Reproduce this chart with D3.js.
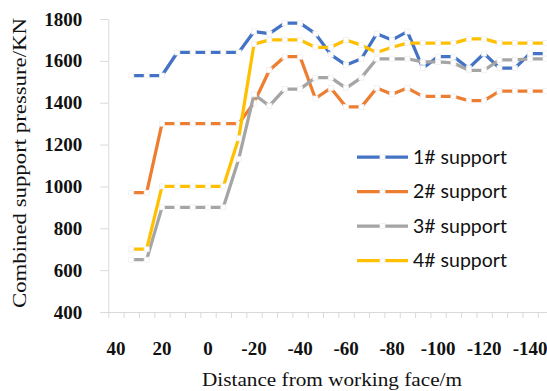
<!DOCTYPE html>
<html>
<head>
<meta charset="utf-8">
<script src="https://cdn.jsdelivr.net/npm/d3@7"></script>
<style>
  html, body { margin: 0; padding: 0; background: #fff; }
  svg { display: block; }
</style>
</head>
<body>
<svg id="chart" width="547" height="391"></svg>
<script>
// distance from working face (m), one entry per category
const categories = [40, 33, 27, 20, 13, 7, 0, -7, -13, -20, -27, -33, -40, -47, -53,
  -60, -67, -73, -80, -87, -93, -100, -107, -113, -120, -127, -133, -140, -147];

// combined support pressure (KN)
const support1 = [null, 1530, 1530, 1530, 1640, 1640, 1640, 1640, 1640, 1740, 1730, 1780, 1780, 1730,
  1630, 1580, 1610, 1730, 1700, 1740, 1565, 1620, 1620, 1565, 1635, 1565, 1565, 1635, 1635];
const support2 = [null, 970, 970, 1300, 1300, 1300, 1300, 1300, 1300, 1400, 1555, 1620, 1620, 1420,
  1470, 1380, 1380, 1470, 1440, 1470, 1430, 1430, 1430, 1410, 1410, 1455, 1455, 1455, 1455];
const support3 = [null, 650, 650, 900, 900, 900, 900, 900, 1130, 1440, 1385, 1465, 1465, 1520,
  1520, 1470, 1520, 1610, 1610, 1610, 1595, 1595, 1590, 1555, 1555, 1605, 1605, 1610, 1610];
const support4 = [null, 700, 700, 1000, 1000, 1000, 1000, 1000, 1230, 1680, 1700, 1700, 1700, 1665,
  1665, 1700, 1675, 1640, 1665, 1685, 1685, 1685, 1685, 1705, 1705, 1685, 1685, 1685, 1685];

const seriesNames = ["1# support", "2# support", "3# support", "4# support"];
const seriesColors = ["#4472C4", "#ED7D31", "#A5A5A5", "#FFC000"];
const yTicks = [400, 600, 800, 1000, 1200, 1400, 1600, 1800];

const series = [support1, support2, support3, support4].map((values, k) => ({
  name: seriesNames[k],
  color: seriesColors[k],
  values: values.map((v, i) => ({ i, v }))
}));

const svg = d3.select("#chart");
const plotLeft = 108.3, plotTop = 19, plotBottom = 312;
const step = 15.34;
const plotRight = plotLeft + step * categories.length;

const x = d3.scaleBand()
  .domain(d3.range(categories.length))
  .range([plotLeft, plotRight]);
const xEdge = d3.scaleLinear()
  .domain([0, categories.length])
  .range([plotLeft, plotRight]);
const y = d3.scaleLinear().domain([400, 1800]).range([plotBottom, plotTop]);

const axisColor = "#d9d9d9";
const labelFont = "'Liberation Serif', 'Times New Roman', serif";

// y axis
const yAxis = svg.append("g")
  .attr("transform", `translate(${plotLeft},0)`)
  .call(d3.axisLeft(y).tickValues(yTicks).tickFormat(d3.format("d"))
    .tickSize(8).tickSizeOuter(0).tickPadding(18));
yAxis.select(".domain").attr("stroke", axisColor).attr("stroke-width", 1);
yAxis.selectAll(".tick line").attr("stroke", axisColor);
yAxis.selectAll(".tick text")
  .attr("font-family", labelFont)
  .attr("font-weight", "bold")
  .attr("font-size", 19)
  .attr("fill", "#111");

// x axis: tick marks sit between categories
const xTickAxis = svg.append("g")
  .attr("transform", `translate(0,${plotBottom})`)
  .call(d3.axisBottom(xEdge).tickValues(d3.range(categories.length + 1)).tickSize(6).tickSizeOuter(0).tickFormat(""));
xTickAxis.select(".domain").attr("stroke", axisColor);
xTickAxis.selectAll(".tick line").attr("stroke", axisColor);

const xLabelAxis = svg.append("g")
  .attr("transform", `translate(0,${plotBottom})`)
  .call(d3.axisBottom(x).tickSize(0).tickPadding(29.5)
    .tickValues(d3.range(categories.length).filter(i => i % 3 === 0))
    .tickFormat(i => categories[i]));
xLabelAxis.select(".domain").remove();
xLabelAxis.selectAll(".tick text")
  .attr("font-family", labelFont)
  .attr("font-weight", "bold")
  .attr("font-size", 19)
  .attr("fill", "#111");

// axis titles
svg.append("text")
  .attr("transform", "translate(26,163) rotate(-90)")
  .attr("text-anchor", "middle")
  .attr("font-family", labelFont)
  .attr("font-size", 19)
  .attr("textLength", 290)
  .attr("lengthAdjust", "spacingAndGlyphs")
  .attr("fill", "#111")
  .text("Combined support pressure/KN");

svg.append("text")
  .attr("x", 332)
  .attr("y", 386)
  .attr("text-anchor", "middle")
  .attr("font-family", labelFont)
  .attr("font-size", 19)
  .attr("textLength", 260)
  .attr("lengthAdjust", "spacingAndGlyphs")
  .attr("fill", "#111")
  .text("Distance from working face/m");

// lines with white square markers
const line = d3.line()
  .defined(d => d.v != null)
  .x(d => x(d.i) + x.bandwidth() / 2)
  .y(d => y(d.v));

const markerSize = 5;
series.forEach(s => {
  const g = svg.append("g");
  g.append("path")
    .datum(s.values)
    .attr("fill", "none")
    .attr("stroke", s.color)
    .attr("stroke-width", 3.25)
    .attr("stroke-linejoin", "round")
    .attr("d", line);
  g.selectAll("rect")
    .data(s.values.filter(d => d.v != null))
    .join("rect")
    .attr("x", d => x(d.i) + x.bandwidth() / 2 - markerSize / 2)
    .attr("y", d => y(d.v) - markerSize / 2)
    .attr("width", markerSize)
    .attr("height", markerSize)
    .attr("fill", "#fff")
    .attr("stroke", "#eeeeee")
    .attr("stroke-width", 0.75);
});

// legend
const legend = svg.append("g")
  .selectAll("g")
  .data(series)
  .join("g")
  .attr("transform", (d, k) => `translate(357,${157 + k * 34.5})`);
legend.append("line")
  .attr("x1", 0).attr("x2", 51)
  .attr("stroke", d => d.color)
  .attr("stroke-width", 3.25);
legend.append("rect")
  .attr("x", 25.5 - markerSize / 2).attr("y", -markerSize / 2)
  .attr("width", markerSize).attr("height", markerSize)
  .attr("fill", "#fff")
  .attr("stroke", "#eeeeee")
  .attr("stroke-width", 0.75);
legend.append("text")
  .attr("x", 56)
  .attr("y", 6.5)
  .attr("font-family", "Lato, 'Open Sans', sans-serif")
  .attr("font-size", 19.5)
  .attr("fill", "#111")
  .text(d => d.name);
</script>
</body>
</html>
